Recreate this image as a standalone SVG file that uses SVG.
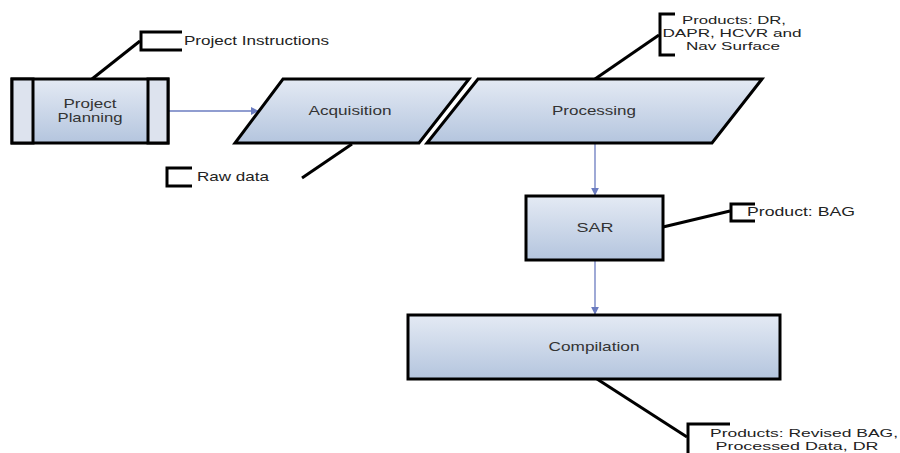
<svg xmlns="http://www.w3.org/2000/svg" width="900" height="453" viewBox="0 0 900 453">
<defs>
<linearGradient id="g" x1="0" y1="0" x2="0" y2="1">
<stop offset="0" stop-color="#e4eaf4"/>
<stop offset="1" stop-color="#b4c5de"/>
</linearGradient>
<marker id="arr" viewBox="0 0 10 10" refX="9" refY="5" markerWidth="8" markerHeight="8" orient="auto" markerUnits="userSpaceOnUse">
<path d="M0,0 L10,5 L0,10 z" fill="#6b7cc0"/>
</marker>
<style>
.node{fill:url(#g);stroke:#000;stroke-width:3}
.side{fill:#dde3ee;stroke:#000;stroke-width:3}
.lbl{font-family:"Liberation Sans",Arial,sans-serif;font-size:13px;fill:#333;text-anchor:middle}
.note{font-family:"Liberation Sans",Arial,sans-serif;font-size:13px;fill:#222}
.notec{font-family:"Liberation Sans",Arial,sans-serif;font-size:11px;fill:#222;text-anchor:middle}
.lead{stroke:#000;stroke-width:3;fill:none}
.brk{stroke:#000;stroke-width:3;fill:none}
.flow{stroke:#6b7cc0;stroke-width:1.3;fill:none;marker-end:url(#arr)}
</style>
</defs>
<rect width="900" height="453" fill="#fff"/>
<g id="connectors">
<line class="flow" x1="168" y1="111" x2="258" y2="111"/>
<line class="flow" x1="595" y1="143" x2="595" y2="195"/>
<line class="flow" x1="595" y1="260" x2="595" y2="314"/>
<line class="lead" x1="92" y1="79" x2="140" y2="41"/>
<line class="lead" x1="302" y1="178" x2="352" y2="144"/>
<line class="lead" x1="595" y1="79" x2="659" y2="35"/>
<line class="lead" x1="663" y1="227" x2="730" y2="211"/>
<line class="lead" x1="597" y1="379" x2="687" y2="437"/>
</g>
<g id="project-planning">
<rect class="node" x="12" y="79" width="156" height="64"/>
<rect class="side" x="12" y="79" width="21" height="64"/>
<rect class="side" x="148" y="79" width="20" height="64"/>
<text class="lbl" x="90" y="108" textLength="53" lengthAdjust="spacingAndGlyphs">Project</text>
<text class="lbl" x="90" y="122" textLength="65" lengthAdjust="spacingAndGlyphs">Planning</text>
</g>
<g id="acquisition">
<polygon class="node" points="283,79 469,79 419,143 235,143"/>
<text class="lbl" x="350" y="115" textLength="83" lengthAdjust="spacingAndGlyphs">Acquisition</text>
</g>
<g id="processing">
<polygon class="node" points="478,79 762,79 712,143 427,143"/>
<text class="lbl" x="594" y="115" textLength="84" lengthAdjust="spacingAndGlyphs">Processing</text>
</g>
<g id="sar">
<rect class="node" x="526" y="196" width="137" height="64"/>
<text class="lbl" x="595" y="232" textLength="37" lengthAdjust="spacingAndGlyphs">SAR</text>
</g>
<g id="compilation">
<rect class="node" x="408" y="315" width="372" height="64"/>
<text class="lbl" x="594" y="351" textLength="91" lengthAdjust="spacingAndGlyphs">Compilation</text>
</g>
<g id="note-project-instructions">
<path class="brk" d="M182,32 L141,32 L141,50 L182,50"/>
<text class="note" x="184" y="45" textLength="145" lengthAdjust="spacingAndGlyphs">Project Instructions</text>
</g>
<g id="note-raw-data">
<path class="brk" d="M192,168 L167,168 L167,186 L192,186"/>
<text class="note" x="197" y="181" textLength="72" lengthAdjust="spacingAndGlyphs">Raw data</text>
</g>
<g id="note-processing-products">
<path class="brk" d="M675,14 L660,14 L660,55 L675,55"/>
<text class="notec" x="734" y="24" textLength="104" lengthAdjust="spacingAndGlyphs">Products: DR,</text>
<text class="notec" x="732" y="37" textLength="139" lengthAdjust="spacingAndGlyphs">DAPR, HCVR and</text>
<text class="notec" x="733" y="50" textLength="94" lengthAdjust="spacingAndGlyphs">Nav Surface</text>
</g>
<g id="note-sar-product">
<path class="brk" d="M755,204 L731,204 L731,221 L755,221"/>
<text class="note" x="747" y="216" textLength="108" lengthAdjust="spacingAndGlyphs">Product:  BAG</text>
</g>
<g id="note-compilation-products">
<path class="brk" d="M730,424 L688,424 L688,455"/>
<text class="notec" x="804" y="437" textLength="188" lengthAdjust="spacingAndGlyphs">Products:  Revised BAG,</text>
<text class="notec" x="797" y="450" textLength="163" lengthAdjust="spacingAndGlyphs">Processed Data, DR</text>
</g>
</svg>
